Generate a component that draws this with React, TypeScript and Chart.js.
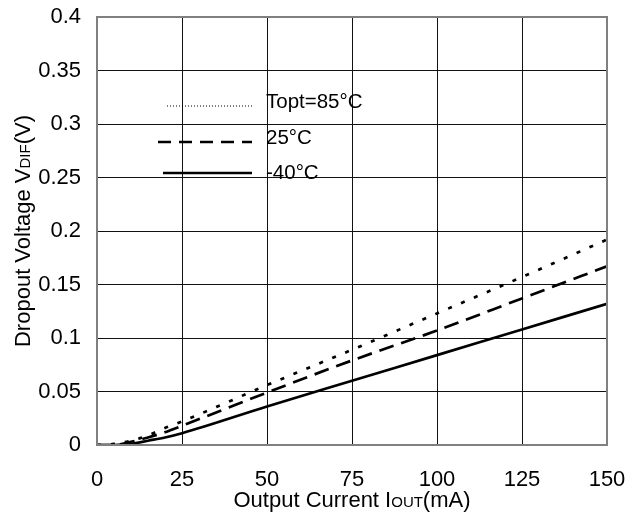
import React, { useEffect, useRef } from "react";
import { Chart, registerables } from "chart.js";

Chart.register(...registerables);

const currents = [0, 5, 10, 15, 20, 25, 50, 75, 100, 125, 150];
const vdif85 = [0, 0.001, 0.004, 0.009, 0.016, 0.022, 0.056, 0.089, 0.123, 0.157, 0.192];
const vdif25 = [0, 0, 0.003, 0.007, 0.012, 0.018, 0.049, 0.079, 0.107, 0.137, 0.167];
const vdifM40 = [0, 0, 0.001, 0.004, 0.007, 0.011, 0.036, 0.06, 0.084, 0.108, 0.132];
const legendLabels = ["Topt=85°C", "25°C", "-40°C"];
const xTicks = [0, 25, 50, 75, 100, 125, 150];
const yTicks = [0, 0.05, 0.1, 0.15, 0.2, 0.25, 0.3, 0.35, 0.4];

const FONT = "'Liberation Sans', Arial, sans-serif";

const decorPlugin = {
  id: "decor",
  afterDraw(chart: any) {
    const { ctx, chartArea } = chart;
    ctx.save();
    ctx.strokeStyle = "#808080";
    ctx.lineWidth = 2;
    ctx.strokeRect(chartArea.left, chartArea.top, chartArea.right - chartArea.left, chartArea.bottom - chartArea.top);

    const items = [
      { dash: [1, 2], width: 1.2, x0: 167, x1: 252, y: 106, ty: 102 },
      { dash: [13, 8], width: 2.5, x0: 158, x1: 252, y: 142, ty: 138 },
      { dash: [], width: 2.5, x0: 163, x1: 252, y: 173, ty: 173 },
    ];
    items.forEach((it, i) => {
      ctx.beginPath();
      ctx.setLineDash(it.dash);
      ctx.lineWidth = it.width;
      ctx.strokeStyle = "#000";
      ctx.moveTo(it.x0, it.y);
      ctx.lineTo(it.x1, it.y);
      ctx.stroke();
      ctx.setLineDash([]);
      ctx.fillStyle = "#000";
      ctx.font = `20.5px ${FONT}`;
      ctx.textAlign = "left";
      ctx.textBaseline = "middle";
      ctx.fillText(legendLabels[i], 266, it.ty);
    });

    const drawParts = (parts: { t: string; s: number }[], cx: number, cy: number, rot: number) => {
      ctx.save();
      ctx.translate(cx, cy);
      ctx.rotate(rot);
      ctx.textBaseline = "alphabetic";
      ctx.textAlign = "left";
      let total = 0;
      parts.forEach((p) => {
        ctx.font = `${p.s}px ${FONT}`;
        total += ctx.measureText(p.t).width;
      });
      let x = -total / 2;
      parts.forEach((p) => {
        ctx.font = `${p.s}px ${FONT}`;
        ctx.fillStyle = "#000";
        ctx.fillText(p.t, x, 8);
        x += ctx.measureText(p.t).width;
      });
      ctx.restore();
    };
    drawParts(
      [
        { t: "Output Current I", s: 22 },
        { t: "OUT", s: 15 },
        { t: "(mA)", s: 22 },
      ],
      (chartArea.left + chartArea.right) / 2,
      499,
      0
    );
    drawParts(
      [
        { t: "Dropout Voltage V", s: 22 },
        { t: "DIF", s: 15 },
        { t: "(V)", s: 22 },
      ],
      22,
      (chartArea.top + chartArea.bottom) / 2,
      -Math.PI / 2
    );
    ctx.restore();
  },
};

export default function App() {
  const ref = useRef<HTMLCanvasElement>(null);
  useEffect(() => {
    if (!ref.current) return;
    const mk = (data: number[], dash: number[]) => ({
      data: currents.map((x, i) => ({ x, y: data[i] })),
      borderColor: "#000",
      borderWidth: 2.7,
      borderDash: dash,
      pointRadius: 0,
      cubicInterpolationMode: "monotone" as const,
      fill: false,
    });
    const chart = new Chart(ref.current, {
      type: "line",
      data: {
        datasets: [mk(vdif85, [4, 10]), mk(vdif25, [15, 8]), mk(vdifM40, [])],
      },
      options: {
        animation: false,
        responsive: false,
        layout: { padding: { top: 17, right: 35, left: 0, bottom: 0 } },
        plugins: { legend: { display: false }, tooltip: { enabled: false } },
        scales: {
          x: {
            type: "linear",
            min: 0,
            max: 150,
            afterBuildTicks: (s: any) => {
              s.ticks = xTicks.map((v) => ({ value: v }));
            },
            afterFit: (s: any) => {
              s.height = 67;
              s.paddingLeft = 0;
              s.paddingRight = 0;
            },
            grid: { color: "#111", lineWidth: 1, drawTicks: false },
            border: { display: true, color: "#808080", width: 2 },
            ticks: {
              color: "#000",
              font: { family: FONT, size: 22 },
              padding: 22,
              maxRotation: 0,
            },
          },
          y: {
            type: "linear",
            min: 0,
            max: 0.4,
            afterBuildTicks: (s: any) => {
              s.ticks = yTicks.map((v) => ({ value: v }));
            },
            afterFit: (s: any) => {
              s.width = 97;
              s.paddingTop = 0;
              s.paddingBottom = 0;
            },
            grid: { color: "#111", lineWidth: 1, drawTicks: false },
            border: { display: true, color: "#808080", width: 2 },
            ticks: {
              color: "#000",
              font: { family: FONT, size: 22 },
              padding: 16,
              callback: (v: any) => String(Math.round(Number(v) * 100) / 100),
            },
          },
        },
      },
      plugins: [decorPlugin],
    });
    return () => chart.destroy();
  }, []);
  return (
    <div style={{ position: "fixed", left: 0, top: 0, width: 642, height: 512, background: "#fff" }}>
      <canvas ref={ref} width={642} height={512} style={{ display: "block" }} />
    </div>
  );
}
